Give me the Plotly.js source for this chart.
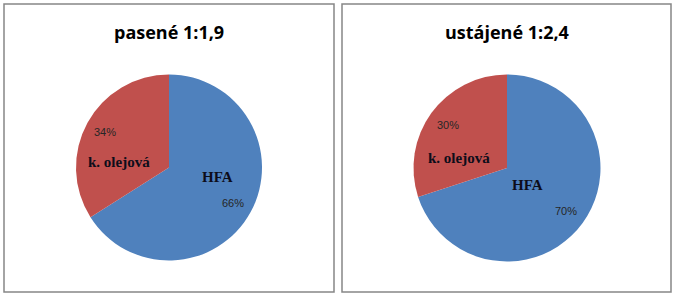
<!DOCTYPE html>
<html>
<head>
<meta charset="utf-8">
<script src="https://cdn.plot.ly/plotly-3.0.1.min.js"></script>
<style>html,body{margin:0;padding:0;background:#fff;}#chart{width:676px;height:299px;}</style>
</head>
<body>
<div id="chart"></div>
<script>
// ---- data ----
const categories = ["HFA", "k. olejová"];
const titles = ["pasené 1:1,9", "ustájené 1:2,4"];
const valuesPasene = [66, 34];
const valuesUstajene = [70, 30];
const colors = ["#4F81BD", "#C0504D"];

// ---- geometry (pixels) ----
const W = 676, H = 299;
const pies = [
  {values: valuesPasene, title: titles[0], cx: 169, cy: 167.5, r: 93,
   panel: [4, 4, 334, 292],
   nameOffsets: [[48.5, 9.5], [-49.5, -6]]},
  {values: valuesUstajene, title: titles[1], cx: 507, cy: 168, r: 93.5,
   panel: [342, 4, 671, 292],
   nameOffsets: [[20, 17], [-48, -10]]}
];
const px = x => x / W;
const py = y => (H - y) / H;

const traces = [];
const annotations = [];
const shapes = [];

pies.forEach(p => {
  traces.push({
    type: "pie",
    values: p.values,
    labels: categories,
    sort: false,
    direction: "clockwise",
    rotation: 0,
    textinfo: "none",
    hoverinfo: "label+percent",
    marker: {colors: colors, line: {width: 0}},
    showlegend: false,
    domain: {x: [px(p.cx - p.r), px(p.cx + p.r)], y: [py(p.cy + p.r), py(p.cy - p.r)]}
  });
  // panel border
  shapes.push({type: "rect", xref: "paper", yref: "paper",
    x0: px(p.panel[0]), x1: px(p.panel[2]), y0: py(p.panel[3]), y1: py(p.panel[1]),
    line: {color: "#868686", width: 1.5}, fillcolor: "rgba(0,0,0,0)", layer: "below"});
  // title
  annotations.push({text: "<b>" + p.title + "</b>", xref: "paper", yref: "paper",
    x: px(p.cx), y: py(32), xanchor: "center", yanchor: "middle", showarrow: false,
    font: {family: "Open Sans, Liberation Sans, sans-serif", size: 18, color: "#000"}});
  // percent labels along slice mid-angles
  const total = p.values.reduce((a, b) => a + b, 0);
  let cum = 0;
  p.values.forEach((v, i) => {
    const frac = v / total;
    const midDeg = 90 - 360 * (cum + frac / 2);
    cum += frac;
    const a = midDeg * Math.PI / 180;
    const rr = 0.785 * p.r;
    annotations.push({text: Math.round(frac * 100) + "%", xref: "paper", yref: "paper",
      x: px(p.cx + rr * Math.cos(a)), y: py(p.cy - rr * Math.sin(a)),
      xanchor: "center", yanchor: "middle", showarrow: false,
      font: {family: "Liberation Sans, Arial, sans-serif", size: 11, color: "#262626"}});
    const off = p.nameOffsets[i];
    annotations.push({text: "<b>" + categories[i] + "</b>", xref: "paper", yref: "paper",
      x: px(p.cx + off[0]), y: py(p.cy + off[1]),
      xanchor: "center", yanchor: "middle", showarrow: false,
      font: {family: "Liberation Serif, Times New Roman, serif", size: 15, color: "#0d0d1a"}});
  });
});

Plotly.newPlot("chart", traces, {
  width: W, height: H,
  margin: {l: 0, r: 0, t: 0, b: 0},
  paper_bgcolor: "#fff",
  annotations: annotations,
  shapes: shapes
}, {staticPlot: true, displayModeBar: false});
</script>
</body>
</html>
